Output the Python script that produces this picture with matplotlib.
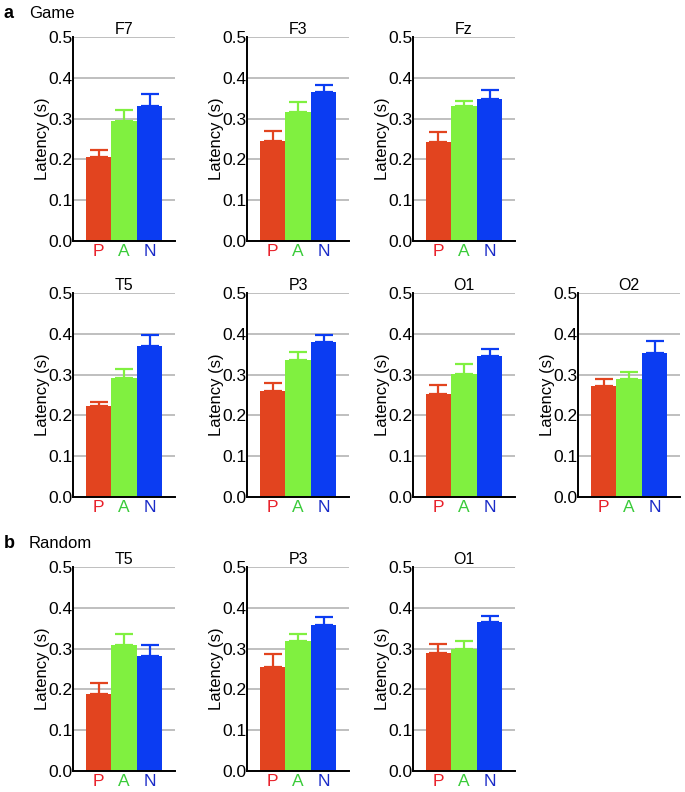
import matplotlib.pyplot as plt
import numpy as np

plt.rcParams['font.family'] = ['Liberation Sans', 'DejaVu Sans']

conditions = ['P', 'A', 'N']
bar_colors = ['#e2441f', '#80f040', '#0b3cf2']
label_colors = ['#e8202a', '#3acb3a', '#1a2bc8']

# Game condition: mean latency and top of error bar (s)
game_channels = ['F7', 'F3', 'Fz', 'T5', 'P3', 'O1', 'O2']
game_means = {
    'F7': [0.205, 0.293, 0.330],
    'F3': [0.244, 0.317, 0.364],
    'Fz': [0.243, 0.330, 0.349],
    'T5': [0.222, 0.292, 0.370],
    'P3': [0.261, 0.336, 0.379],
    'O1': [0.252, 0.302, 0.346],
    'O2': [0.273, 0.289, 0.354],
}
game_tops = {
    'F7': [0.224, 0.320, 0.361],
    'F3': [0.269, 0.340, 0.382],
    'Fz': [0.266, 0.344, 0.371],
    'T5': [0.234, 0.314, 0.397],
    'P3': [0.280, 0.355, 0.396],
    'O1': [0.274, 0.326, 0.362],
    'O2': [0.289, 0.307, 0.382],
}

# Random condition
random_channels = ['T5', 'P3', 'O1']
random_means = {
    'T5': [0.188, 0.309, 0.281],
    'P3': [0.256, 0.318, 0.357],
    'O1': [0.289, 0.298, 0.365],
}
random_tops = {
    'T5': [0.215, 0.335, 0.309],
    'P3': [0.286, 0.335, 0.378],
    'O1': [0.312, 0.319, 0.381],
}

W, H = 685, 792
fig = plt.figure(figsize=(W / 100, H / 100), dpi=100)

col_left = [73, 247, 413, 578]
row_top = [37, 293, 567]
ax_w, ax_h = 102, 204


def draw_panel(col, row, name, means, tops):
    ax = fig.add_axes([col_left[col] / W, 1 - (row_top[row] + ax_h) / H,
                       ax_w / W, ax_h / H])
    x = np.arange(len(conditions))
    ax.set_axisbelow(True)
    ax.yaxis.grid(True, color='#b4b4b4', linewidth=1.2)
    ax.bar(x, means, width=1.0, color=bar_colors, edgecolor='none', zorder=2)
    for i in range(len(conditions)):
        ax.errorbar(x[i], means[i], yerr=[[0], [tops[i] - means[i]]],
                    fmt='none', ecolor=bar_colors[i], elinewidth=1.6,
                    capsize=6.8, capthick=1.6, zorder=3)
    ax.set_xlim(-1.0, 3.0)
    ax.set_ylim(0, 0.5)
    ax.set_yticks([0.0, 0.1, 0.2, 0.3, 0.4, 0.5])
    ax.set_yticklabels(['0.0', '0.1', '0.2', '0.3', '0.4', '0.5'])
    ax.set_xticks(x)
    ax.set_xticklabels(conditions)
    for lbl, c in zip(ax.get_xticklabels(), label_colors):
        lbl.set_color(c)
    ax.tick_params(axis='both', length=0, labelsize=12.5)
    ax.tick_params(axis='y', pad=0.5)
    ax.tick_params(axis='x', pad=2)
    for s in ['top', 'right']:
        ax.spines[s].set_visible(False)
    ax.spines['left'].set_linewidth(1.4)
    ax.spines['bottom'].set_linewidth(1.4)
    ax.set_ylabel('Latency (s)', fontsize=12)
    ax.yaxis.set_label_coords(-0.23, 0.5)
    ax.set_title(name, fontsize=11.5, pad=2.5)
    return ax


for k, ch in enumerate(game_channels):
    row, col = (0, k) if k < 3 else (1, k - 3)
    draw_panel(col, row, ch, game_means[ch], game_tops[ch])

for k, ch in enumerate(random_channels):
    draw_panel(k, 2, ch, random_means[ch], random_tops[ch])

fig.text(4 / W, 1 - 13 / H, 'a', fontsize=13, fontweight='bold', va='center')
fig.text(29 / W, 1 - 13 / H, 'Game', fontsize=12, va='center')
fig.text(4 / W, 1 - 543 / H, 'b', fontsize=13, fontweight='bold', va='center')
fig.text(29 / W, 1 - 543 / H, 'Random', fontsize=12, va='center')

fig.savefig('out.png', dpi=100)
